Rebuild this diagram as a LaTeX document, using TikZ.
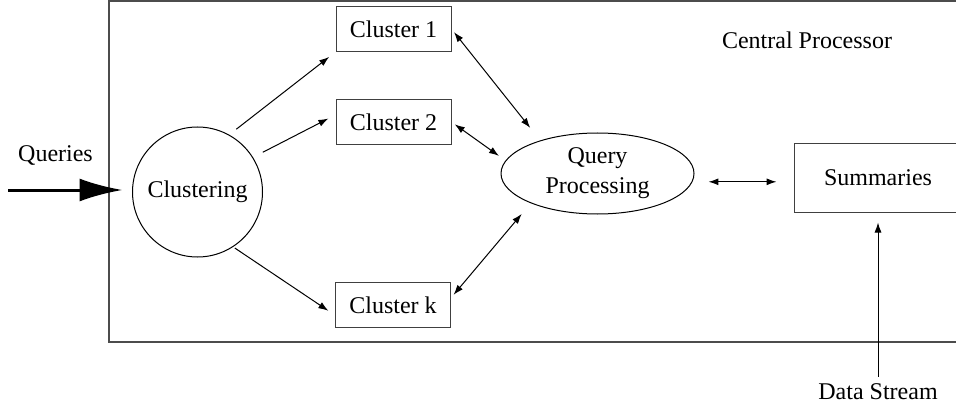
\documentclass[tikz,border=0pt]{standalone}
\usepackage{fontspec}
\setmainfont{Liberation Serif}
\usetikzlibrary{arrows.meta,shapes.geometric,positioning}

\begin{document}
\begin{tikzpicture}[x=0.5pt,y=-0.5pt,>={Latex[length=5pt,width=3.5pt]},line width=0.5pt,font=\fontsize{12}{15}\selectfont]
  \tikzstyle{box}=[draw=black!75,rectangle,minimum width=57.5pt,minimum height=22.5pt,inner sep=0pt]

  \useasboundingbox (0,0) rectangle (956,406);
  \clip (0,0) rectangle (956,406);

  % central processor frame
  \draw[black!70,line width=1pt] (962,1) -- (109,1) -- (109,342) -- (962,342);
  \node (cp) at (807,40) {Central Processor};

  \node[circle,draw,minimum size=65pt,inner sep=0pt] (clust) at (197.5,192) {Clustering};
  \node[box] (c1) at (393.5,29) {Cluster 1};
  \node[box] (c2) [below=23.5pt of c1] {Cluster 2};
  \node[box] (ck) at (393,305) {Cluster k};
  \node[ellipse,draw,minimum width=96.5pt,minimum height=40.5pt,inner sep=0pt,align=center] (qp) at (597.5,173.5) {Query\\Processing};
  \node[draw=black!75,minimum width=84pt,minimum height=34pt,inner sep=0pt] (summ) at (878,178) {Summaries};
  \node (ds) at (878,392) {Data Stream};

  \coordinate (q) at (8,190);
  \node (ql) at (55.5,156) {Queries};

  \draw[line width=1.5pt,-{Latex[length=21.5pt,width=11.5pt]},shorten >=4.75pt] (q) -- (q -| clust.west);
  \draw[->,shorten <=4.5pt,shorten >=4pt] (clust.61) -- (c1.south west);
  \draw[->,shorten <=5.5pt,shorten >=4pt] (clust.32) -- (c2.173);
  \draw[->,shorten <=1pt,shorten >=4pt] (clust.303) -- (ck.190);
  \draw[<->,shorten <=2pt,shorten >=8pt] (c1.east) -- (qp.150);
  \draw[<->,shorten <=2pt,shorten >=4pt] (c2.east) -- (qp.172);
  \draw[<->,shorten <=2pt,shorten >=7pt] (ck.7) -- (qp.204);
  \draw[<->,shorten <=8pt,shorten >=8.5pt] (qp.-5) -- (qp.-5 -| summ.west);
  \draw[->,shorten >=5pt] (ds) -- (summ);
\end{tikzpicture}
\end{document}
